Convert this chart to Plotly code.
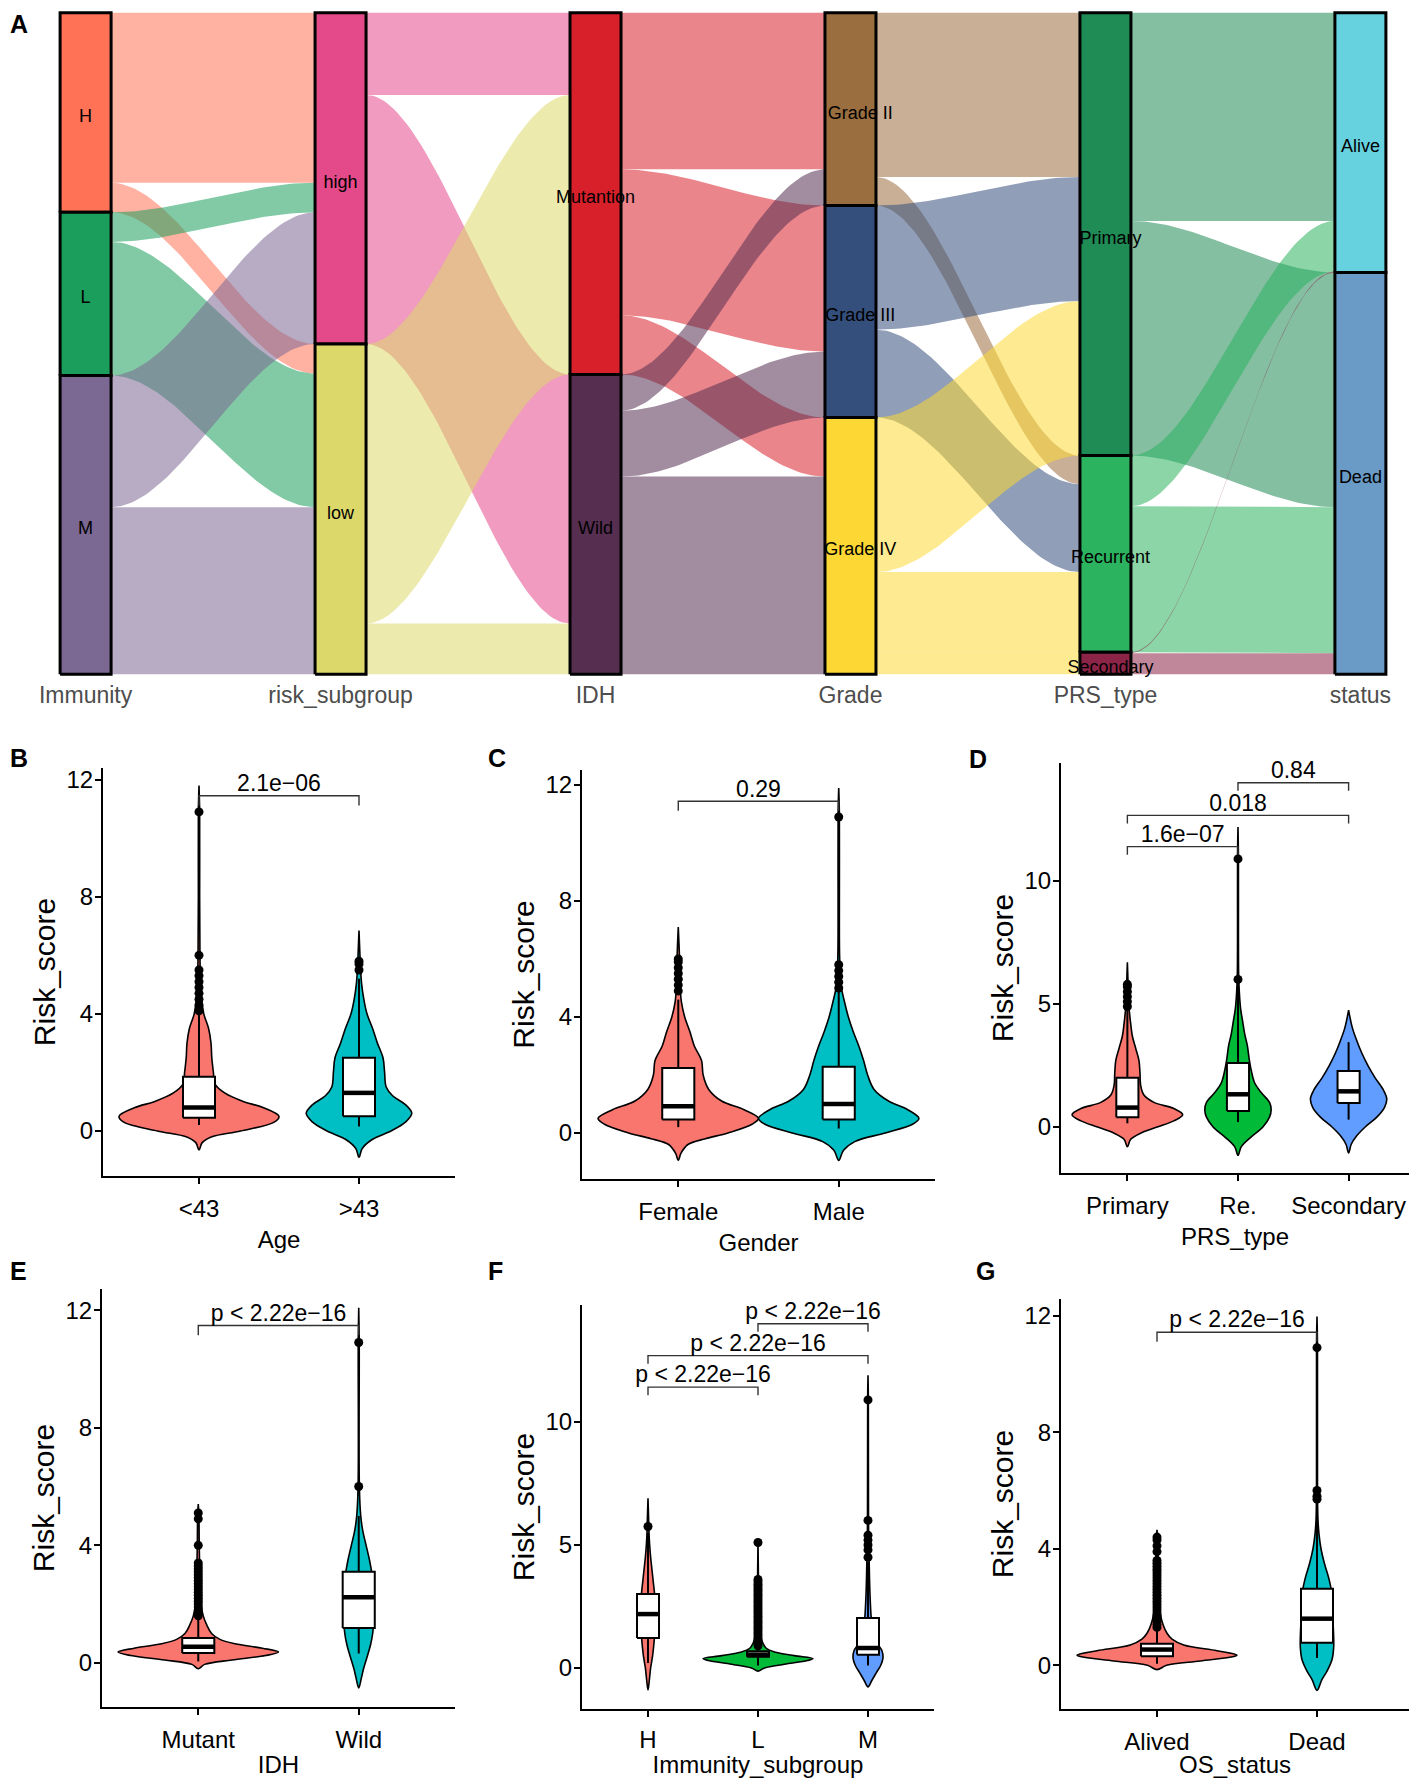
import numpy as np
import plotly.graph_objects as go

PAGE_W, PAGE_H = 1417, 1786
OFF = 8  # browser body margin around the plot div
FIG_W, FIG_H = PAGE_W - 2 * OFF, PAGE_H - 2 * OFF
FONT = "Liberation Sans, Arial, sans-serif"

# ================= A: alluvial (patient counts) =================
axis_names = ["Immunity", "risk_subgroup", "IDH", "Grade", "PRS_type", "status"]
immunity = ["H", "L", "M"]
risk_subgroup = ["high", "low"]
idh = ["Mutantion", "Wild"]
grade = ["Grade II", "Grade III", "Grade IV"]
prs_type = ["Primary", "Recurrent", "Secondary"]
status = ["Alive", "Dead"]

# rows = left strata, cols = right strata
immunity_to_risk = [[178, 31], [31, 140], [138, 175]]
risk_to_idh = [[86, 261], [293, 53]]
idh_to_grade = [[164, 153, 62], [38, 69, 207]]
grade_to_prs = [[172, 30, 0], [130, 92, 0], [162, 84, 23]]
prs_to_status = [[218, 246], [53, 153], [1, 22]]

immunity_colors = ["#FF7256", "#1B9E5B", "#7B6893"]
risk_colors = ["#E4498A", "#DDD86A"]
idh_colors = ["#D8202B", "#552E50"]
grade_colors = ["#9B6E3F", "#344F7B", "#FDD835"]
prs_colors = ["#1F8B55", "#2BB35F", "#8B2446"]
status_colors = ["#66D2DF", "#6A9BC6"]

# ================= B-G: violin + box panels =================
# each profile: (risk score levels, half width in category units)
age_groups = ["<43", ">43"]
age_profiles = [
    ([-0.65, -0.4, -0.2, 0, 0.3, 0.5, 0.8, 1.0, 1.3, 1.6, 2.0, 2.5, 3.0, 3.5, 4.0, 4.5, 5.0, 6.0, 8.0, 10.9, 11.8],
     [0, 0.02, 0.08, 0.26, 0.47, 0.5, 0.4, 0.28, 0.16, 0.1, 0.09, 0.08, 0.075, 0.06, 0.03, 0.017, 0.01, 0.006, 0.004, 0.004, 0]),
    ([-0.9, -0.6, -0.3, 0, 0.3, 0.6, 0.9, 1.2, 1.5, 2.0, 2.5, 3.0, 3.5, 4.0, 4.5, 5.0, 5.5, 6.0, 6.85],
     [0, 0.02, 0.08, 0.2, 0.29, 0.33, 0.29, 0.21, 0.17, 0.16, 0.15, 0.115, 0.085, 0.05, 0.03, 0.017, 0.01, 0.006, 0]),
]
age_boxes = [(0.45, 0.8, 1.85, 0.2, 4.0), (0.5, 1.3, 2.5, 0.15, 5.2)]  # q1, median, q3, low, high
age_outliers = [[4.1, 4.3, 4.5, 4.7, 4.9, 5.1, 5.3, 5.5, 6.0, 10.9], [5.5, 5.7, 5.8]]
age_pvals = [(1, 2, 11.45, "2.1e\u221206")]

gender_groups = ["Female", "Male"]
gender_profiles = [
    ([-0.95, -0.7, -0.4, -0.2, 0, 0.3, 0.5, 0.8, 1.1, 1.5, 2.0, 2.5, 3.0, 3.5, 4.0, 4.5, 5.0, 6.0, 7.1],
     [0, 0.017, 0.06, 0.17, 0.31, 0.46, 0.5, 0.41, 0.27, 0.19, 0.155, 0.145, 0.1, 0.072, 0.04, 0.02, 0.012, 0.008, 0]),
    ([-0.95, -0.6, -0.3, 0, 0.3, 0.5, 0.8, 1.1, 1.5, 2.0, 2.5, 3.0, 3.5, 4.0, 4.5, 5.0, 6.0, 8.0, 11.0, 11.9],
     [0, 0.03, 0.1, 0.29, 0.46, 0.5, 0.43, 0.31, 0.22, 0.18, 0.155, 0.125, 0.09, 0.06, 0.037, 0.017, 0.006, 0.004, 0.004, 0]),
]
gender_boxes = [(0.46, 0.92, 2.24, 0.2, 4.6), (0.46, 1.0, 2.28, 0.15, 4.9)]
gender_outliers = [[4.9, 5.1, 5.3, 5.5, 5.7, 5.9, 6.0], [5.0, 5.2, 5.4, 5.6, 5.8, 10.9]]
gender_pvals = [(1, 2, 11.44, "0.29")]

prs_groups = ["Primary", "Re.", "Secondary"]
prs_profiles = [
    ([-0.8, -0.5, -0.25, 0, 0.25, 0.5, 0.75, 1.0, 1.3, 1.7, 2.2, 2.7, 3.2, 3.7, 4.2, 4.7, 5.2, 6.0, 6.7],
     [0, 0.03, 0.12, 0.27, 0.42, 0.5, 0.42, 0.24, 0.15, 0.12, 0.114, 0.105, 0.075, 0.045, 0.03, 0.018, 0.009, 0.005, 0]),
    ([-1.15, -0.8, -0.4, 0, 0.4, 0.7, 1.0, 1.4, 1.8, 2.3, 2.8, 3.3, 3.8, 4.3, 4.8, 5.5, 6.2, 8.0, 11.0, 12.2],
     [0, 0.03, 0.12, 0.225, 0.285, 0.3, 0.285, 0.21, 0.15, 0.12, 0.1, 0.085, 0.06, 0.042, 0.024, 0.012, 0.006, 0.004, 0.004, 0]),
    ([-1.05, -0.7, -0.35, 0, 0.4, 0.8, 1.15, 1.5, 2.0, 2.5, 3.0, 3.5, 4.0, 4.4, 4.75],
     [0, 0.024, 0.075, 0.15, 0.255, 0.325, 0.345, 0.315, 0.24, 0.175, 0.12, 0.075, 0.036, 0.015, 0]),
]
prs_boxes = [(0.4, 0.79, 2.0, 0.15, 4.8), (0.65, 1.33, 2.6, 0.2, 5.8), (0.98, 1.45, 2.28, 0.3, 3.45)]
prs_outliers = [[4.9, 5.1, 5.3, 5.5, 5.7, 5.8], [6.0, 10.9], []]
prs_pvals = [(1, 2, 11.4, "1.6e\u221207"), (1, 3, 12.67, "0.018"), (2, 3, 14.0, "0.84")]

idh_groups = ["Mutant", "Wild"]
idh_profiles = [
    ([-0.2, -0.05, 0.1, 0.25, 0.37, 0.5, 0.65, 0.8, 1.0, 1.3, 1.6, 2.0, 3.0, 4.0, 5.0, 5.4],
     [0, 0.04, 0.21, 0.42, 0.5, 0.4, 0.23, 0.135, 0.083, 0.052, 0.031, 0.017, 0.01, 0.006, 0.004, 0]),
    ([-0.85, -0.5, -0.2, 0.2, 0.6, 1.0, 1.5, 2.0, 2.5, 3.0, 3.5, 4.0, 4.5, 5.0, 6.0, 11.0, 12.08],
     [0, 0.017, 0.03, 0.052, 0.073, 0.087, 0.094, 0.094, 0.092, 0.083, 0.067, 0.046, 0.025, 0.0125, 0.004, 0.003, 0]),
]
idh_boxes = [(0.34, 0.55, 0.85, 0.05, 1.6), (1.19, 2.23, 3.1, 0.32, 5.0)]
idh_outliers = [[1.6, 1.7, 1.8, 1.9, 2.0, 2.1, 2.2, 2.3, 2.4, 2.5, 2.6, 2.7, 2.8, 2.9, 3.0, 3.1, 3.2, 3.3, 3.4, 4.0, 4.9, 5.1],
                [6.0, 10.9]]
idh_pvals = [(1, 2, 11.48, "p < 2.22e\u221216")]

imm_groups = ["H", "L", "M"]
imm_profiles = [
    ([-0.9, -0.5, 0, 0.5, 1.0, 1.5, 2.0, 2.5, 3.0, 3.5, 4.0, 4.5, 5.0, 5.5, 6.0, 6.9],
     [0, 0.012, 0.024, 0.042, 0.054, 0.063, 0.066, 0.066, 0.06, 0.048, 0.036, 0.024, 0.015, 0.009, 0.006, 0]),
    ([-0.13, 0, 0.15, 0.3, 0.38, 0.5, 0.65, 0.8, 1.0, 1.3, 1.8, 3.0, 5.2],
     [0, 0.06, 0.24, 0.45, 0.5, 0.33, 0.15, 0.075, 0.045, 0.024, 0.012, 0.006, 0]),
    ([-0.77, -0.5, -0.2, 0.1, 0.4, 0.7, 1.0, 1.5, 2.0, 3.0, 4.0, 5.0, 6.0, 11.0, 11.9],
     [0, 0.036, 0.075, 0.115, 0.136, 0.127, 0.085, 0.045, 0.03, 0.018, 0.012, 0.0075, 0.0045, 0.003, 0]),
]
imm_boxes = [(1.22, 2.19, 3.01, 0.2, 5.5), (0.45, 0.54, 0.68, 0.1, 0.9), (0.54, 0.81, 2.03, 0.1, 4.3)]
imm_outliers = [[5.75],
                [0.9, 1.0, 1.1, 1.2, 1.3, 1.4, 1.5, 1.6, 1.7, 1.8, 1.9, 2.0, 2.1, 2.2, 2.3, 2.4, 2.5, 2.6,
                 2.7, 2.8, 2.9, 3.0, 3.1, 3.2, 3.3, 3.4, 3.5, 3.6, 5.1],
                [4.5, 4.8, 5.0, 5.2, 5.4, 6.0, 10.9]]
imm_pvals = [(1, 2, 11.42, "p < 2.22e\u221216"), (1, 3, 12.7, "p < 2.22e\u221216"), (2, 3, 14.0, "p < 2.22e\u221216")]

os_groups = ["Alived", "Dead"]
os_profiles = [
    ([-0.15, 0, 0.15, 0.3, 0.35, 0.5, 0.7, 0.9, 1.1, 1.4, 1.8, 2.5, 3.5, 4.3, 4.65],
     [0, 0.06, 0.27, 0.48, 0.5, 0.375, 0.167, 0.094, 0.0625, 0.0375, 0.02, 0.0125, 0.008, 0.004, 0]),
    ([-0.86, -0.5, -0.2, 0.2, 0.6, 1.0, 1.5, 2.0, 2.5, 3.0, 3.5, 4.0, 4.5, 5.0, 6.0, 11.0, 11.97],
     [0, 0.03, 0.0625, 0.094, 0.104, 0.104, 0.1, 0.096, 0.092, 0.073, 0.046, 0.025, 0.0125, 0.006, 0.003, 0.003, 0]),
]
os_boxes = [(0.31, 0.54, 0.74, 0.05, 1.3), (0.77, 1.6, 2.63, 0.25, 5.4)]
os_outliers = [[1.3, 1.4, 1.5, 1.6, 1.7, 1.8, 1.9, 2.0, 2.1, 2.2, 2.3, 2.4, 2.5, 2.6, 2.7, 2.8, 2.9, 3.0,
                3.1, 3.2, 3.3, 3.4, 3.5, 3.6, 3.9, 4.1, 4.3, 4.4],
               [5.7, 5.8, 6.0, 10.9]]
os_pvals = [(1, 2, 11.43, "p < 2.22e\u221216")]

RED, CYAN, GREEN, BLUE = "#F8766D", "#00BFC4", "#00BA38", "#619CFF"


def rgba(hex_color, a):
    h = hex_color.lstrip("#")
    r, g, b = int(h[0:2], 16), int(h[2:4], 16), int(h[4:6], 16)
    return f"rgba({r},{g},{b},{a})"


def poly(fig, xs, ys, fill, line_color, lw, ax, shape="linear"):
    fig.add_trace(go.Scatter(
        x=xs, y=ys, mode="lines", fill="toself", fillcolor=fill,
        line=dict(color=line_color, width=lw, shape=shape),
        hoverinfo="skip", showlegend=False, xaxis=ax[0], yaxis=ax[1]))


def line(fig, xs, ys, color, lw, ax):
    fig.add_trace(go.Scatter(
        x=xs, y=ys, mode="lines", line=dict(color=color, width=lw),
        hoverinfo="skip", showlegend=False, xaxis=ax[0], yaxis=ax[1]))


fig = go.Figure()

# ---------------- alluvial ----------------
strata = [immunity, risk_subgroup, idh, grade, prs_type, status]
strata_colors = [immunity_colors, risk_colors, idh_colors, grade_colors, prs_colors, status_colors]
flows = [immunity_to_risk, risk_to_idh, idh_to_grade, grade_to_prs, prs_to_status]

totals = [[sum(r) for r in flows[0]]]
for f in flows:
    totals.append([sum(r[j] for r in f) for j in range(len(f[0]))])
N = sum(totals[0])
tops = []
for tot in totals:
    cum, tt = N, []
    for v in tot:
        tt.append(cum)
        cum -= v
    tops.append(tt)

HALF = 0.1
t = np.linspace(0, 1, 60)
s = t * t * (3 - 2 * t)
axA = ("x", "y")
for k, f in enumerate(flows):
    left_off = [0] * len(f)
    right_off = [0] * len(f[0])
    x0, x1 = k + 1 + HALF, k + 2 - HALF
    xs = list(x0 + (x1 - x0) * t)
    for i, row in enumerate(f):
        for j, v in enumerate(row):
            if v == 0:
                continue
            yl = tops[k][i] - left_off[i]
            yr = tops[k + 1][j] - right_off[j]
            left_off[i] += v
            right_off[j] += v
            ytop = yl + (yr - yl) * s
            ybot = (yl - v) + ((yr - v) - (yl - v)) * s
            poly(fig, xs + xs[::-1], list(ytop) + list(ybot[::-1]),
                 rgba(strata_colors[k][i], 0.55), "rgba(0,0,0,0)", 0, axA)

A_TOP, A_BOT = 10, 677          # page px of the alluvial y range
units_per_px = (N + 6) / (A_BOT - A_TOP)
label_nudge = [0, 0, 0, 0.038, 0.02, 0]  # stratum labels sit slightly right of centre on some axes
lab_x, lab_y, lab_t = [], [], []
for k, names in enumerate(strata):
    p = k + 1
    for i, name in enumerate(names):
        top, v = tops[k][i], totals[k][i]
        poly(fig, [p - HALF, p + HALF, p + HALF, p - HALF, p - HALF],
             [top - v, top - v, top, top, top - v], strata_colors[k][i], "black", 3, axA)
        lab_x.append(p + label_nudge[k])
        lab_y.append(top - v / 2 - 5 * units_per_px)
        lab_t.append(name)
fig.add_trace(go.Scatter(x=lab_x, y=lab_y, text=lab_t, mode="text",
                         textfont=dict(size=18, color="black", family=FONT),
                         hoverinfo="skip", showlegend=False, xaxis="x", yaxis="y"))


# page pixel positions -> paper fractions
def px_dom_x(a, b):
    return [max(0, (a - OFF) / FIG_W), min(1, (b - OFF) / FIG_W)]


def px_dom_y(top, bottom):
    return [max(0, 1 - (bottom - OFF) / FIG_H), min(1, 1 - (top - OFF) / FIG_H)]


layout = dict(
    xaxis=dict(domain=px_dom_x(55, 1391), range=[0.88, 6.12], anchor="y",
               tickvals=list(range(1, 7)), ticktext=axis_names, ticks="", ticklen=0,
               showline=False, showgrid=False, zeroline=False, ticklabelstandoff=2,
               tickfont=dict(size=23, color="#4D4D4D", family=FONT)),
    yaxis=dict(domain=px_dom_y(A_TOP, A_BOT), range=[-3, N + 3], anchor="x",
               visible=False, showgrid=False, zeroline=False),
)


# ---------------- violin panels ----------------
def violin_panel(n, xpx, ypx, xhi, yrange, yticks, groups, colors, profiles, boxes,
                 outliers, pvals, xtitle, tick_off=4, title_off=10):
    ax = (f"x{n}", f"y{n}")
    per_px = (yrange[1] - yrange[0]) / (ypx[1] - ypx[0])
    for k, ((ys, ws), col) in enumerate(zip(profiles, colors)):
        c = k + 1
        xs = [c + w for w in ws] + [c - w for w in ws[::-1]]
        poly(fig, xs, ys + ys[::-1], col, "black", 1.6, ax, shape="spline")
    for k, (q1, med, q3, lo, hi) in enumerate(boxes):
        c = k + 1
        line(fig, [c, c, None, c, c], [lo, q1, None, q3, hi], "black", 2, ax)
        poly(fig, [c - 0.1, c + 0.1, c + 0.1, c - 0.1, c - 0.1], [q1, q1, q3, q3, q1],
             "white", "black", 2, ax)
        line(fig, [c - 0.1, c + 0.1], [med, med], "black", 4.5, ax)
    for k, pts in enumerate(outliers):
        if pts:
            fig.add_trace(go.Scatter(x=[k + 1] * len(pts), y=pts, mode="markers",
                                     marker=dict(size=9, color="black"), cliponaxis=False,
                                     hoverinfo="skip", showlegend=False,
                                     xaxis=ax[0], yaxis=ax[1]))
    for a, b, yl, label in pvals:
        line(fig, [a, a, b, b], [yl - 0.33, yl, yl, yl - 0.33], "#333333", 1.4, ax)
        fig.add_trace(go.Scatter(x=[(a + b) / 2], y=[yl + 10.5 * per_px], text=[label], mode="text",
                                 textfont=dict(size=23, color="black", family=FONT),
                                 cliponaxis=False, hoverinfo="skip", showlegend=False,
                                 xaxis=ax[0], yaxis=ax[1]))
    common = dict(showline=True, linewidth=2, linecolor="black", ticks="outside", ticklen=6,
                  tickwidth=2, tickcolor="black", showgrid=False, zeroline=False,
                  tickfont=dict(size=24, color="black", family=FONT))
    layout[f"xaxis{n}"] = dict(domain=px_dom_x(*xpx), anchor=ax[1], range=[0.4, xhi],
                               tickvals=list(range(1, len(groups) + 1)), ticktext=groups,
                               ticklabelstandoff=tick_off,
                               title=dict(text=xtitle, standoff=title_off,
                                          font=dict(size=24, color="black", family=FONT)),
                               **common)
    layout[f"yaxis{n}"] = dict(domain=px_dom_y(*ypx), anchor=ax[0], range=yrange, tickvals=yticks,
                               ticklabelstandoff=-3,
                               title=dict(text="Risk_score", standoff=2,
                                          font=dict(size=30, color="black", family=FONT)),
                               **common)


violin_panel(2, (103, 455), (768, 1176), 2.6, [-1.54, 12.4], [0, 4, 8, 12], age_groups, [RED, CYAN],
             age_profiles, age_boxes, age_outliers, age_pvals, "Age")
violin_panel(3, (582, 935), (770, 1179), 2.6, [-1.59, 12.52], [0, 4, 8, 12], gender_groups, [RED, CYAN],
             gender_profiles, gender_boxes, gender_outliers, gender_pvals, "Gender")
violin_panel(4, (1061, 1409), (763, 1173), 3.546, [-1.87, 14.8], [0, 5, 10], prs_groups, [RED, GREEN, BLUE],
             prs_profiles, prs_boxes, prs_outliers, prs_pvals, "PRS_type")
violin_panel(5, (102, 455), (1289, 1707), 2.6, [-1.5, 12.72], [0, 4, 8, 12], idh_groups, [RED, CYAN],
             idh_profiles, idh_boxes, idh_outliers, idh_pvals, "IDH")
violin_panel(6, (582, 934), (1305, 1709), 3.6, [-1.67, 14.76], [0, 5, 10], imm_groups, [RED, GREEN, BLUE],
             imm_profiles, imm_boxes, imm_outliers, imm_pvals, "Immunity_subgroup",
             tick_off=2, title_off=14)
violin_panel(7, (1061, 1409), (1299, 1709), 2.575, [-1.5, 12.57], [0, 4, 8, 12], os_groups, [RED, CYAN],
             os_profiles, os_boxes, os_outliers, os_pvals, "OS_status")

# panel letters (page pixels)
letters = [("A", 8, 8), ("B", 8, 742), ("C", 486, 742), ("D", 967, 743),
           ("E", 8, 1255), ("F", 486, 1255), ("G", 974, 1255)]
annotations = [dict(text=f"<b>{l}</b>", x=(px - OFF) / FIG_W, y=1 - (py - OFF) / FIG_H,
                    xref="paper", yref="paper", xanchor="left", yanchor="top", showarrow=False,
                    font=dict(size=25, color="black", family=FONT)) for l, px, py in letters]

fig.update_layout(
    width=FIG_W, height=FIG_H, autosize=False,
    margin=dict(l=0, r=0, t=0, b=0),
    template="none", paper_bgcolor="white", plot_bgcolor="white",
    font=dict(family=FONT, color="black"),
    showlegend=False, annotations=annotations,
    **layout,
)

fig.write_html("out.html")
